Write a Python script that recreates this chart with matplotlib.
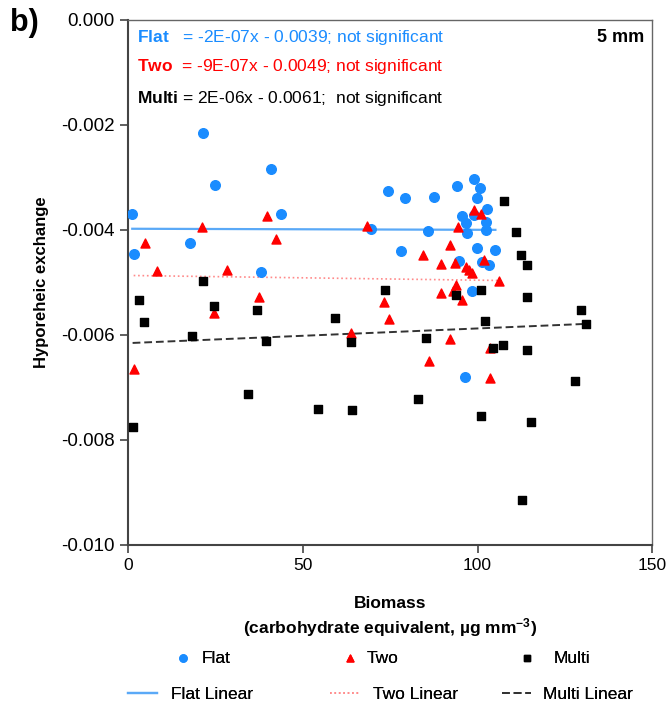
import matplotlib
matplotlib.use("Agg")
import matplotlib.pyplot as plt
import numpy as np

plt.rcParams['font.family'] = ['Liberation Sans', 'DejaVu Sans']
plt.rcParams['mathtext.fontset'] = 'custom'
plt.rcParams['mathtext.rm'] = 'Liberation Sans'
plt.rcParams['mathtext.bf'] = 'Liberation Sans:bold'
plt.rcParams['mathtext.it'] = 'Liberation Sans:italic'

# =========================
# DATA
# =========================
flat_x = [1.2, 1.8, 21.4, 41.0, 25.0, 43.9, 17.7, 38.1, 74.3, 79.1, 87.6, 94.1, 99.1,
          100.6, 99.7, 102.6, 95.6, 99.0, 96.7, 102.4, 97.0, 102.4, 69.5, 85.7, 78.2,
          99.7, 105.1, 94.7, 101.3, 103.3, 98.3, 96.4]
flat_y = [-0.00370, -0.00446, -0.00215, -0.00284, -0.00314, -0.00370, -0.00425, -0.00481,
          -0.00327, -0.00339, -0.00337, -0.00316, -0.00303, -0.00321, -0.00339, -0.00360,
          -0.00373, -0.00372, -0.00387, -0.00385, -0.00406, -0.00400, -0.00399, -0.00402,
          -0.00441, -0.00435, -0.00438, -0.00460, -0.00462, -0.00467, -0.00516, -0.00681]

two_x = [39.8, 21.2, 4.8, 42.2, 8.2, 28.4, 37.6, 24.7, 1.6, 68.4, 99.0, 101.0, 94.5,
         92.2, 84.4, 89.5, 93.4, 101.9, 96.8, 97.6, 98.3, 106.2, 93.9, 89.4, 93.1, 95.5,
         73.1, 74.8, 63.8, 92.2, 103.6, 86.1, 103.6]
two_y = [-0.00374, -0.00395, -0.00425, -0.00418, -0.00478, -0.00476, -0.00529, -0.00558,
         -0.00665, -0.00392, -0.00363, -0.00369, -0.00394, -0.00429, -0.00448, -0.00466,
         -0.00464, -0.00457, -0.00471, -0.00477, -0.00482, -0.00497, -0.00506, -0.00520,
         -0.00517, -0.00533, -0.00538, -0.00570, -0.00596, -0.00608, -0.00626, -0.00651,
         -0.00683]

multi_x = [21.4, 3.1, 4.6, 24.5, 36.8, 18.4, 39.5, 34.2, 1.3, 107.7, 110.9, 112.5, 114.1,
           73.6, 101.1, 93.7, 114.1, 59.2, 102.1, 63.9, 85.3, 104.4, 107.2, 114.2, 83.0,
           54.4, 64.2, 101.1, 115.2, 129.5, 131.1, 127.8, 112.8]
multi_y = [-0.00497, -0.00534, -0.00575, -0.00546, -0.00552, -0.00603, -0.00611, -0.00713,
           -0.00775, -0.00346, -0.00404, -0.00448, -0.00467, -0.00514, -0.00515, -0.00524,
           -0.00529, -0.00569, -0.00573, -0.00614, -0.00606, -0.00625, -0.00619, -0.00630,
           -0.00722, -0.00742, -0.00744, -0.00755, -0.00766, -0.00552, -0.00579, -0.00688,
           -0.00914]

# linear fits as drawn (slope, intercept)
flat_fit = (-2e-07, -0.00398)
two_fit = (-9e-07, -0.00487)
multi_fit = (2.8e-06, -0.00616)

equations = [
    ("Flat", "   = -2E-07x - 0.0039; not significant", '#1a8cff'),
    ("Two", "  = -9E-07x - 0.0049; not significant", '#ff0000'),
    ("Multi", " = 2E-06x - 0.0061;  not significant", '#000000'),
]

x_ticks = [0, 50, 100, 150]
y_ticks = [0.000, -0.002, -0.004, -0.006, -0.008, -0.010]

# =========================
# PLOT
# =========================
fig = plt.figure(figsize=(6.67, 7.11), dpi=100)
ax = fig.add_axes([0.192, 0.234, 0.786, 0.738])

blue = '#1a8cff'
red = '#ff0000'

ax.scatter(flat_x, flat_y, s=48, marker='o', color=blue, zorder=3, label="Flat")
ax.scatter(two_x, two_y, s=42, marker='^', color=red, zorder=3, label="Two")
ax.scatter(multi_x, multi_y, s=28, marker='s', color='black', zorder=3, label="Multi")

for xs, fit, style in [
    (flat_x, flat_fit, dict(color='#5aa9f7', linestyle='-', linewidth=1.6, label="Flat Linear")),
    (two_x, two_fit, dict(color='#ff8a8a', linestyle=':', linewidth=1.2, label="Two Linear")),
    (multi_x, multi_fit, dict(color='#333333', linestyle=(0, (4, 2)), linewidth=1.4, label="Multi Linear")),
]:
    lx = np.array([min(xs), max(xs)])
    ax.plot(lx, fit[0] * lx + fit[1], zorder=2, **style)

ax.set_xlim(0, 150)
ax.set_ylim(-0.010, 0.000)
ax.set_xticks(x_ticks)
ax.set_yticks(y_ticks)
ax.set_yticklabels([f"{v:.3f}" for v in y_ticks])
ax.tick_params(direction='out', length=6, width=1.2, color='#444444')
ax.tick_params(axis='y', labelsize=13.5)
ax.tick_params(axis='x', labelsize=12.5)

for side in ['left', 'bottom']:
    ax.spines[side].set_linewidth(1.5)
    ax.spines[side].set_color('#444444')
for side in ['top', 'right']:
    ax.spines[side].set_linewidth(1.0)
    ax.spines[side].set_color('#666666')

ax.set_ylabel("Hyporeheic exchange", fontsize=12, fontweight='bold', labelpad=9)
ax.set_xlabel("Biomass\n(carbohydrate equivalent, µg mm$^{\\mathbf{-3}}$)",
              fontsize=12.5, fontweight='bold', labelpad=17, linespacing=1.25)

# equations
ey = [0.966, 0.912, 0.851]
for (name, rest, col), yy in zip(equations, ey):
    ax.text(0.017, yy, f"$\\bf{{{name}}}$" + rest, transform=ax.transAxes,
            color=col, fontsize=12.5, va='center', ha='left')

ax.text(0.985, 0.966, "5 mm", transform=ax.transAxes, fontsize=13,
        fontweight='bold', ha='right', va='center')

fig.text(0.037, 0.968, "b)", fontsize=22, fontweight='bold', ha='center', va='center')

# legends below the axes, one entry each
handles, labels = ax.get_legend_handles_labels()
lookup = dict(zip(labels, handles))

W, H = 667.0, 711.0
# (label, handle left px, row centre px, handle length em, text pad em)
legend_slots = [
    ("Flat", 174, 658, 1.0, 0.6),
    ("Two", 341, 658, 1.0, 0.45),
    ("Multi", 518, 658, 1.0, 1.05),
    ("Flat Linear", 128, 694, 1.65, 0.8),
    ("Two Linear", 330, 694, 1.65, 0.8),
    ("Multi Linear", 502, 694, 1.65, 0.72),
]
for lab, px, py, hl, pad in legend_slots:
    leg = fig.legend([lookup[lab]], [lab], loc='center left',
                     bbox_to_anchor=(px / W, 1 - py / H), frameon=False,
                     fontsize=12.5, handlelength=hl, handletextpad=pad,
                     borderpad=0, borderaxespad=0, markerscale=0.75)
    fig.add_artist(leg)

fig.savefig("out.png", dpi=100)
